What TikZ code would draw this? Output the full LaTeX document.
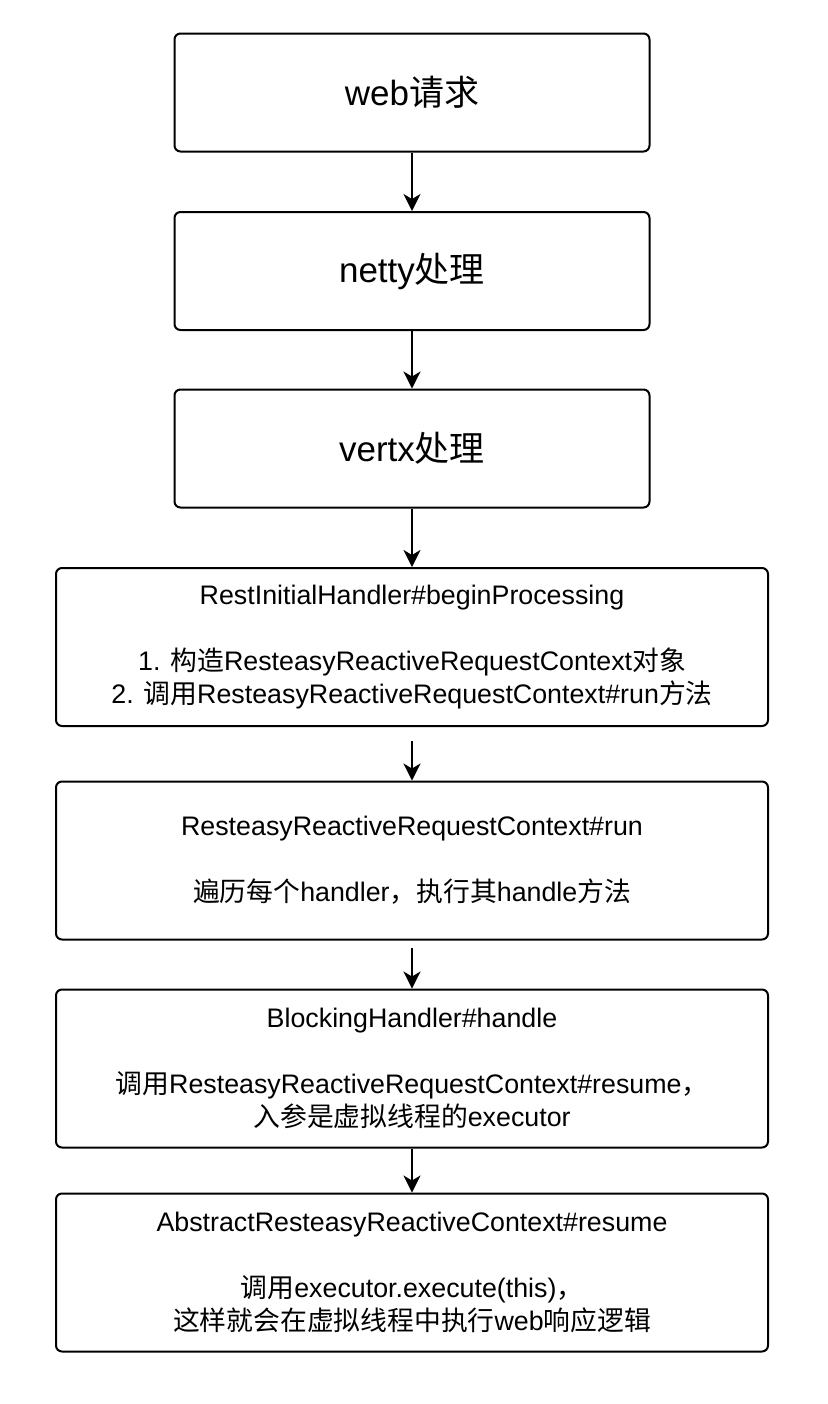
\documentclass[tikz,border=0pt]{standalone}
\usepackage{fontspec}
\setmainfont{Liberation Sans}
\newfontfamily\cjk{Noto Sans CJK SC}
\newcommand{\zh}[1]{{\cjk #1}}
\usetikzlibrary{arrows.meta}
\begin{document}
\begin{tikzpicture}[x=0.5pt, y=-0.5pt,
  bigbox/.style={draw, line width=1pt, rounded corners=3pt, minimum width=237.5pt, minimum height=59pt, font=\fontsize{17.5}{21}\selectfont},
  widebox/.style={draw, line width=1pt, rounded corners=3pt, minimum width=356pt, minimum height=79pt, align=center, font=\fontsize{13.4}{16.6}\selectfont},
  flow/.style={-{Stealth[length=8.5pt, width=8.5pt, inset=2.5pt]}, line width=1pt}]
\useasboundingbox (0,0) rectangle (828,1404);
% upper chain
\node[bigbox] (web) at (412,92.5) {web\zh{请求}};
\node[bigbox] (netty) at (412,271) {netty\zh{处理}};
\node[bigbox] (vertx) at (412,448.5) {vertx\zh{处理}};
% handler chain
\node[widebox] (init) at (412,647) {RestInitialHandler\#beginProcessing\\\mbox{}\\1. \zh{构造}ResteasyReactiveRequestContext\zh{对象}\\2. \zh{调用}ResteasyReactiveRequestContext\#run\zh{方法}};
\node[widebox] (run) at (412,860.5) {ResteasyReactiveRequestContext\#run\\\mbox{}\\\zh{遍历每个}handler\zh{，执行其}handle\zh{方法}};
\node[widebox] (blocking) at (412,1068.5) {BlockingHandler\#handle\\\mbox{}\\\zh{调用}ResteasyReactiveRequestContext\#resume\zh{，}\\\zh{入参是虚拟线程的}executor};
\node[widebox] (resume) at (412,1272.5) {AbstractResteasyReactiveContext\#resume\\\mbox{}\\\zh{调用}executor.execute(this)\zh{，}\\\zh{这样就会在虚拟线程中执行}web\zh{响应逻辑}};
% connectors
\draw[flow] (web) -- (netty);
\draw[flow] (netty) -- (vertx);
\draw[flow] (vertx) -- (init);
\draw[flow, shorten <=7pt] (init) -- (run);
\draw[flow, shorten <=3.5pt] (run) -- (blocking);
\draw[flow] (blocking) -- (resume);
\end{tikzpicture}
\end{document}
